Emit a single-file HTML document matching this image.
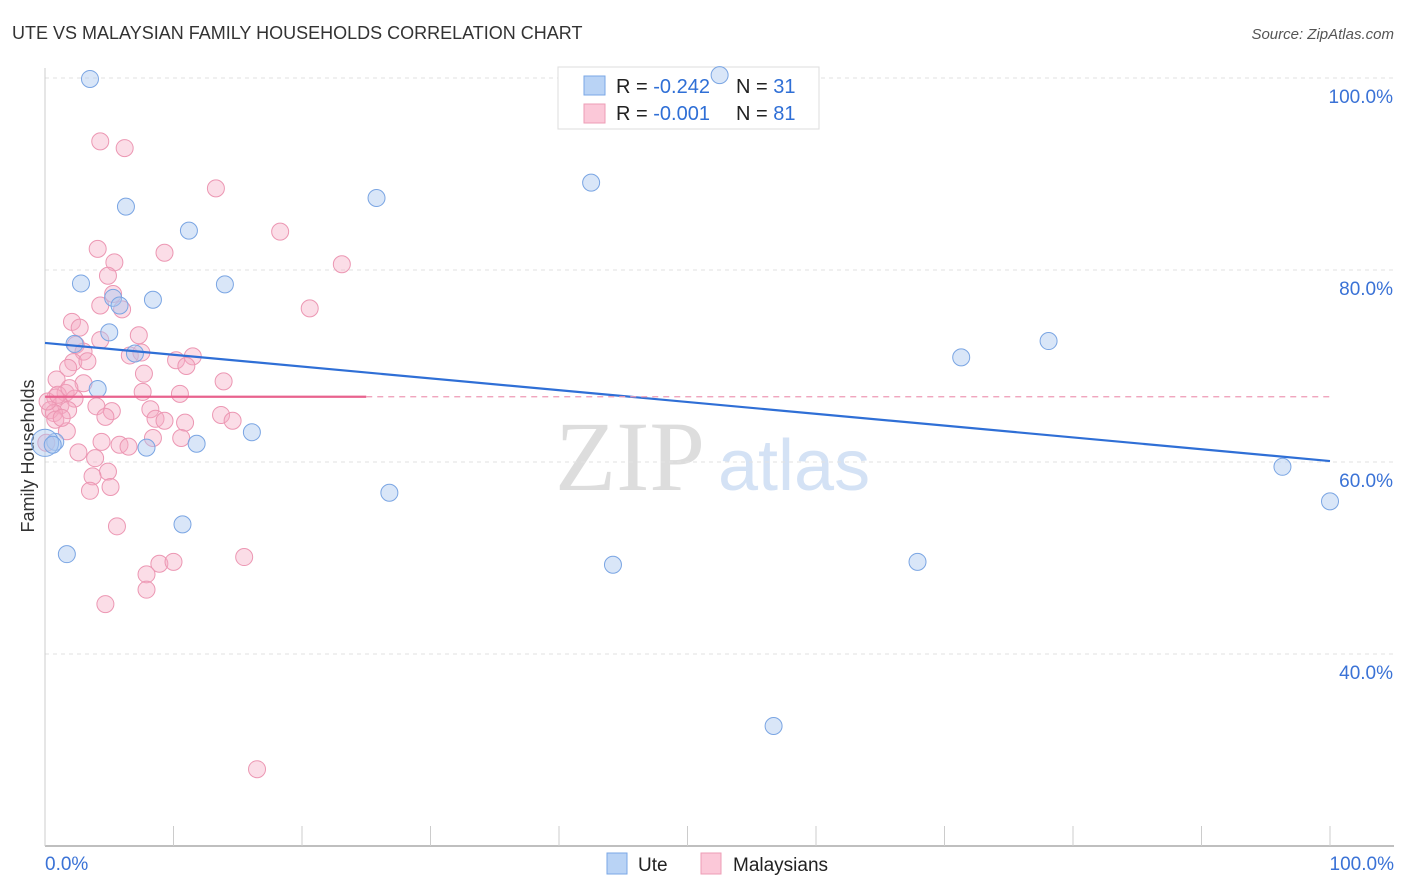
<!DOCTYPE html>
<html><head><meta charset="utf-8">
<style>
body{margin:0;background:#fff;font-family:"Liberation Sans",sans-serif;}
#wrap{position:relative;width:1406px;height:892px;overflow:hidden;}
svg{position:absolute;left:0;top:0;}
</style></head>
<body><div id="wrap">
<svg id="chart" width="1406" height="892">
<text x="12" y="39" font-size="18" fill="#333">UTE VS MALAYSIAN FAMILY HOUSEHOLDS CORRELATION CHART</text>
<text x="1394" y="39" font-size="15" fill="#555" font-style="italic" text-anchor="end">Source: ZipAtlas.com</text>
<text x="34" y="456" font-size="18" fill="#333" text-anchor="middle" transform="rotate(-90 34 456)">Family Households</text>
<text x="555" y="490" font-size="100" fill="#ddd" font-family="Liberation Serif,serif">ZIP</text>
<text x="718" y="490" font-size="72" fill="#d4e2f5">atlas</text>
<g id="grid"></g>
<g>
<rect x="558" y="67" width="261" height="62" fill="#fff" stroke="#ddd"/>
<rect x="584" y="76" width="21" height="19" fill="#b9d3f5" stroke="#7aa7e6"/>
<rect x="584" y="104" width="21" height="19" fill="#fbc8d8" stroke="#ee9db6"/>
<text x="616" y="93" font-size="20" fill="#222">R = <tspan fill="#2f6fd6">-0.242</tspan></text>
<text x="736" y="93" font-size="20" fill="#222">N = <tspan fill="#2f6fd6">31</tspan></text>
<text x="616" y="120" font-size="20" fill="#222">R = <tspan fill="#2f6fd6">-0.001</tspan></text>
<text x="736" y="120" font-size="20" fill="#222">N = <tspan fill="#2f6fd6">81</tspan></text>
</g>
<g id="marks"></g>
<g>
<rect x="607" y="853" width="20" height="21" fill="#b9d3f5" stroke="#7aa7e6"/>
<text x="638" y="871" font-size="19" fill="#222">Ute</text>
<rect x="701" y="853" width="20" height="21" fill="#fbc8d8" stroke="#ee9db6"/>
<text x="733" y="871" font-size="19" fill="#222">Malaysians</text>
</g>
</svg></div>
<script>
const yTicks=[100,80,60,40];
const xTickLabels=["0.0%","100.0%"];
const uteX=[3.5,52.5,6.3,25.8,42.5,11.2,2.8,14.0,8.4,5.3,5.8,5.0,2.3,7.0,4.1,0.8,7.9,11.8,16.1,26.8,10.7,1.7,44.2,67.9,71.3,78.1,96.3,100,56.7,0.0,0.6];
const uteY=[99.9,100.3,86.6,87.5,89.1,84.1,78.6,78.5,76.9,77.1,76.3,73.5,72.3,71.3,67.6,62.1,61.5,61.9,63.1,56.8,53.5,50.4,49.3,49.6,70.9,72.6,59.5,55.9,32.5,62.0,61.8];
const uteSize=[1,1,1,1,1,1,1,1,1,1,1,1,1,1,1,1,1,1,1,1,1,1,1,1,1,1,1,1,1,1.6,1];
const malX=[4.3,6.2,13.3,18.3,4.1,9.3,5.4,23.1,4.9,5.3,4.3,20.6,6.0,2.1,2.7,7.3,4.3,2.4,3.0,6.6,7.5,11.5,10.2,11.0,2.2,3.3,1.8,7.7,13.9,3.0,0.9,1.6,7.6,10.5,2.3,0.8,1.2,1.8,4.0,5.2,8.2,0.4,0.7,13.7,8.6,9.3,4.7,14.6,10.9,1.7,8.4,10.6,4.4,5.8,6.5,0.1,2.6,3.9,4.9,3.7,3.5,5.1,5.6,8.9,10.0,7.9,7.9,4.7,15.5,16.5,0.8,1.3,0.2,1.0,1.9];
const malY=[93.4,92.7,88.5,84.0,82.2,81.8,80.8,80.6,79.4,77.5,76.3,76.0,75.9,74.6,74.0,73.2,72.7,72.2,71.5,71.1,71.4,71.0,70.6,70.0,70.4,70.5,69.8,69.2,68.4,68.2,68.6,67.2,67.3,67.1,66.6,66.7,65.9,65.4,65.8,65.3,65.5,65.4,65.1,64.9,64.5,64.3,64.7,64.3,64.1,63.2,62.5,62.5,62.1,61.8,61.6,62.0,61.0,60.4,59.0,58.5,57.0,57.4,53.3,49.4,49.6,48.3,46.7,45.2,50.1,28.0,64.4,64.6,66.3,67.0,67.7];
const uteTrend=[72.4,60.1];
const malTrend=[66.8,66.8];
const malSolidEnd=25;
const NS="http://www.w3.org/2000/svg";
const xs=v=>45+v*12.85;
const ys=v=>462-(v-60)*9.6;
function mk(t,a,p){const e=document.createElementNS(NS,t);for(const k in a)e.setAttribute(k,a[k]);p.appendChild(e);return e;}
const grid=document.getElementById('grid'),marks=document.getElementById('marks');
yTicks.forEach(t=>{
 const l=mk('line',{x1:45,x2:1394,y1:ys(t),y2:ys(t),stroke:'#e2e2e2','stroke-dasharray':'4,4'},grid);
 
 
 const tx=mk('text',{x:1393,y:ys(t)+25,'font-size':19,fill:'#3a72d6','text-anchor':'end'},grid);
 tx.textContent=t.toFixed(1)+'%';
 
 
});
const ax=mk('line',{x1:45,x2:1394,y1:846,y2:846,stroke:'#aaa','stroke-width':1.5},grid);


const ay=mk('line',{x1:45,x2:45,y1:68,y2:846,stroke:'#ccc'},grid);


for(let i=0;i<=10;i++){const t=mk('line',{x1:xs(i*10),x2:xs(i*10),y1:826,y2:846,stroke:'#ccc'},grid);
 
 }
[[0,'start'],[100,'end']].forEach((d,i)=>{const t=mk('text',{x:d[0]==0?45:1394,y:870,'font-size':19,fill:'#3a72d6','text-anchor':d[1]},grid);
 t.textContent=xTickLabels[i];
 
 });
malX.forEach((x,i)=>{const c=mk('circle',{cx:xs(x),cy:ys(malY[i]),r:8.5,fill:'rgba(245,170,195,0.4)',stroke:'#ec97b3','stroke-width':1},marks);
 
 });
uteX.forEach((x,i)=>{const c=mk('circle',{cx:xs(x),cy:ys(uteY[i]),r:8.5*uteSize[i],fill:'rgba(170,200,240,0.45)',stroke:'#7aa5e3','stroke-width':1},marks);
 
 });
const ut=mk('line',{x1:xs(0),x2:xs(100),y1:ys(uteTrend[0]),y2:ys(uteTrend[1]),stroke:'#2f6fd6','stroke-width':2.2},marks);


const m1=mk('line',{x1:xs(0),x2:xs(malSolidEnd),y1:ys(malTrend[0]),y2:ys(malTrend[0]),stroke:'#e8628e','stroke-width':2.2},marks);


const m2=mk('line',{x1:xs(malSolidEnd),x2:xs(100),y1:ys(malTrend[0]),y2:ys(malTrend[1]),stroke:'#ee9ab5','stroke-width':1.2,'stroke-dasharray':'6,5'},marks);


</script>
</body></html>
